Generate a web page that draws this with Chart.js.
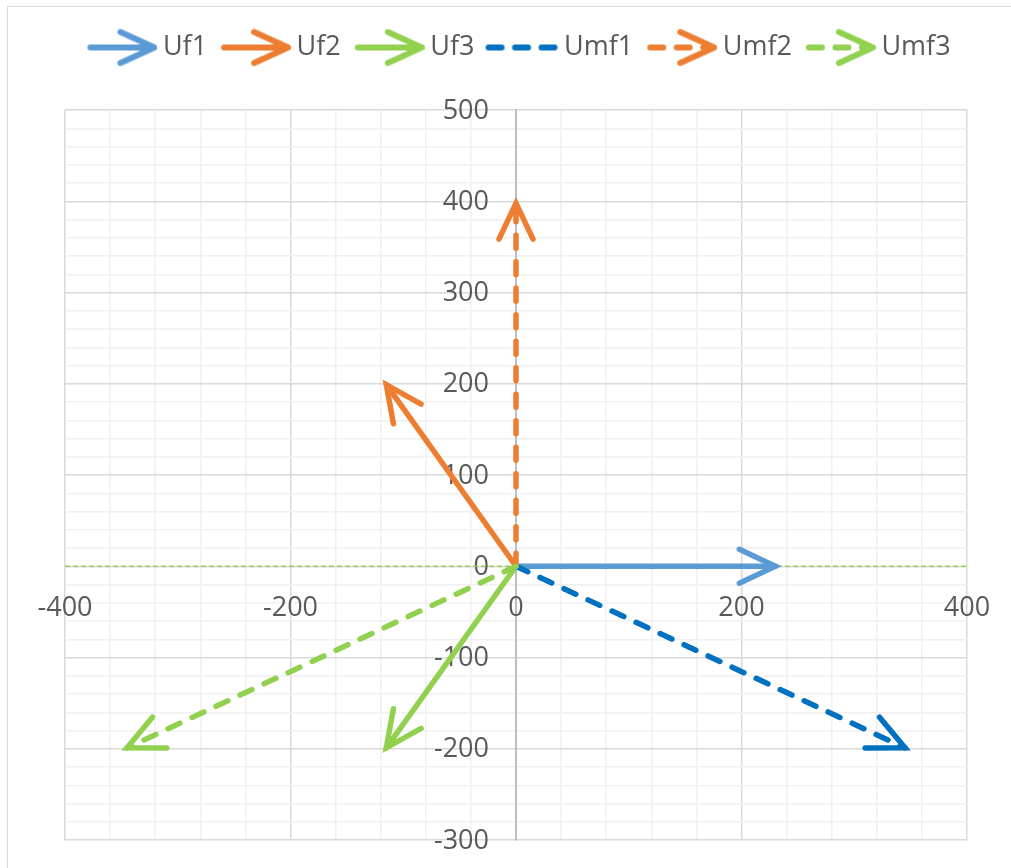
<!DOCTYPE html>
<html>
<head>
<meta charset="utf-8">
<title>Uf / Umf</title>
<script src="https://cdn.jsdelivr.net/npm/chart.js@4.4.1/dist/chart.umd.min.js"></script>
<style>
  html, body { margin: 0; padding: 0; background: #fff; overflow: hidden; }
  #wrap { position: relative; width: 1011px; height: 868px; overflow: hidden; }
  #frame { position: absolute; left: 7px; top: 6px; width: 1100px; height: 1000px; border: 1px solid #d9d9d9; }
  canvas { position: absolute; left: 0; top: 0; }
</style>
</head>
<body>
<div id="wrap"><div id="frame"></div><canvas id="chart" width="1011" height="868"></canvas></div>
<script>
// vector tips, all starting at the origin
const names = ['Uf1', 'Uf2', 'Uf3', 'Umf1', 'Umf2', 'Umf3'];
const tipX = [230, -115, -115, 345, 0, -345];
const tipY = [0, 199, -199, -199, 398, -199];
const colors = ['#5B9BD5', '#ED7D31', '#92D050', '#0070C0', '#ED7D31', '#92D050'];
const dashed = [false, false, false, true, true, true];
const legendHead = [true, true, true, false, true, true];
// thin green dashed line along y = 0
const zeroLineX = [-400, 400];
const zeroLineY = [0, 0];
const xTicks = [-400, -200, 0, 200, 400];
const yTicks = [-300, -200, -100, 0, 100, 200, 300, 400, 500];

const FONT = 'Open Sans';
const TEXT = '#595959';
const LINE_W = 5.5;
const DASH = [13, 13.5];

function head(ctx, x0, y0, x1, y1, len, half) {
    const a = Math.atan2(y1 - y0, x1 - x0);
    const c = Math.cos(a), s = Math.sin(a);
    const bx = x1 - len * c, by = y1 - len * s;
    ctx.beginPath();
    ctx.moveTo(bx - half * s, by + half * c);
    ctx.lineTo(x1, y1);
    ctx.lineTo(bx + half * s, by - half * c);
    ctx.stroke();
}

// little pictures for the legend
function legendIcon(i) {
    const cv = document.createElement('canvas');
    cv.width = 84;
    cv.height = 40;
    const c = cv.getContext('2d');
    c.strokeStyle = colors[i];
    c.lineWidth = 6;
    c.lineCap = 'round';
    c.lineJoin = 'round';
    const x0 = legendHead[i] ? 17 : 14, x1 = 81, y = 20;
    if (dashed[i]) c.setLineDash(DASH);
    c.beginPath();
    c.moveTo(x0, y);
    c.lineTo(legendHead[i] ? x1 - 2 : x1 + 2, y);
    c.stroke();
    c.setLineDash([]);
    if (legendHead[i]) head(c, x0, y, x1, y, 34, 15.5);
    return cv;
}

const arrowHeads = {
    id: 'arrowHeads',
    afterInit(chart) {
        // leave room between the legend and the plot
        const legend = chart.legend;
        const fit = legend.fit;
        legend.fit = function () {
            fit.call(this);
            this.height += 39;
        };
    },
    beforeDatasetsDraw(chart) {
        // axis numbers sit next to the axes crossing at 0
        const ctx = chart.ctx;
        const xs = chart.scales.x, ys = chart.scales.y;
        const ax = xs.getPixelForValue(0);
        const ay = ys.getPixelForValue(0);
        ctx.save();
        ctx.font = '27px "' + FONT + '"';
        ctx.fillStyle = TEXT;
        ctx.textBaseline = 'middle';
        ctx.textAlign = 'right';
        ys.ticks.forEach(t => {
            const v = Math.round(t.value);
            if (yTicks.includes(v)) ctx.fillText(String(v), ax - 27, ys.getPixelForValue(v) + 1);
        });
        ctx.textAlign = 'center';
        xs.ticks.forEach(t => {
            const v = Math.round(t.value);
            if (xTicks.includes(v)) ctx.fillText(String(v), xs.getPixelForValue(v), ay + 42);
        });
        ctx.restore();
    },
    afterDatasetsDraw(chart) {
        const ctx = chart.ctx;
        chart.data.datasets.forEach((ds, i) => {
            if (!ds.arrow || !chart.isDatasetVisible(i)) return;
            const meta = chart.getDatasetMeta(i);
            const p0 = meta.data[0], p1 = meta.data[meta.data.length - 1];
            ctx.save();
            ctx.strokeStyle = ds.borderColor;
            ctx.lineWidth = LINE_W;
            ctx.lineCap = 'round';
            ctx.lineJoin = 'miter';
            head(ctx, p0.x, p0.y, p1.x, p1.y, 36, 17);
            ctx.restore();
        });
    }
};

function gridColor(step) {
    return ctx => (Math.abs(Math.round(ctx.tick.value) % step) === 0 ? '#d9d9d9' : '#f0f0f0');
}

const datasets = names.map((n, i) => ({
    label: n,
    arrow: true,
    data: [{x: 0, y: 0}, {x: tipX[i], y: tipY[i]}],
    borderColor: colors[i],
    backgroundColor: colors[i],
    borderWidth: LINE_W,
    borderDash: dashed[i] ? DASH : [],
    borderCapStyle: 'round',
    showLine: true,
    pointRadius: 0,
    pointHoverRadius: 0,
    order: 6 - i
}));
datasets.push({
    label: 'zero',
    data: zeroLineX.map((x, i) => ({x: x, y: zeroLineY[i]})),
    borderColor: '#92D050',
    borderWidth: 1.5,
    borderDash: [5, 3],
    showLine: true,
    pointRadius: 0,
    pointHoverRadius: 0,
    order: 100
});

Chart.defaults.font.family = FONT;
Chart.defaults.font.size = 27;
Chart.defaults.color = TEXT;

new Chart(document.getElementById('chart'), {
    type: 'scatter',
    data: { datasets: datasets },
    options: {
        responsive: false,
        animation: false,
        devicePixelRatio: 1,
        layout: { padding: { left: 65, right: 44, top: 26, bottom: 28 } },
        plugins: {
            tooltip: { enabled: false },
            legend: {
                position: 'top',
                labels: {
                    usePointStyle: true,
                    pointStyleWidth: 68,
                    padding: 8,
                    color: TEXT,
                    font: { family: FONT, size: 27 },
                    generateLabels(chart) {
                        return names.map((n, i) => ({
                            text: n,
                            fontColor: TEXT,
                            pointStyle: legendIcon(i),
                            strokeStyle: 'transparent',
                            fillStyle: 'transparent',
                            lineWidth: 0,
                            hidden: !chart.isDatasetVisible(i),
                            datasetIndex: i
                        }));
                    }
                }
            }
        },
        scales: {
            x: {
                type: 'linear',
                min: -400,
                max: 400,
                position: { y: 0 },
                ticks: { stepSize: 40, autoSkip: false, display: false },
                grid: { color: gridColor(200), lineWidth: 1.5, drawTicks: false },
                border: { display: false }
            },
            y: {
                type: 'linear',
                min: -300,
                max: 500,
                position: { x: 0 },
                ticks: { stepSize: 20, autoSkip: false, display: false },
                grid: { color: gridColor(100), lineWidth: 1.5, drawTicks: false },
                border: { color: '#bfbfbf', width: 2 }
            }
        }
    },
    plugins: [arrowHeads]
});
</script>
</body>
</html>
